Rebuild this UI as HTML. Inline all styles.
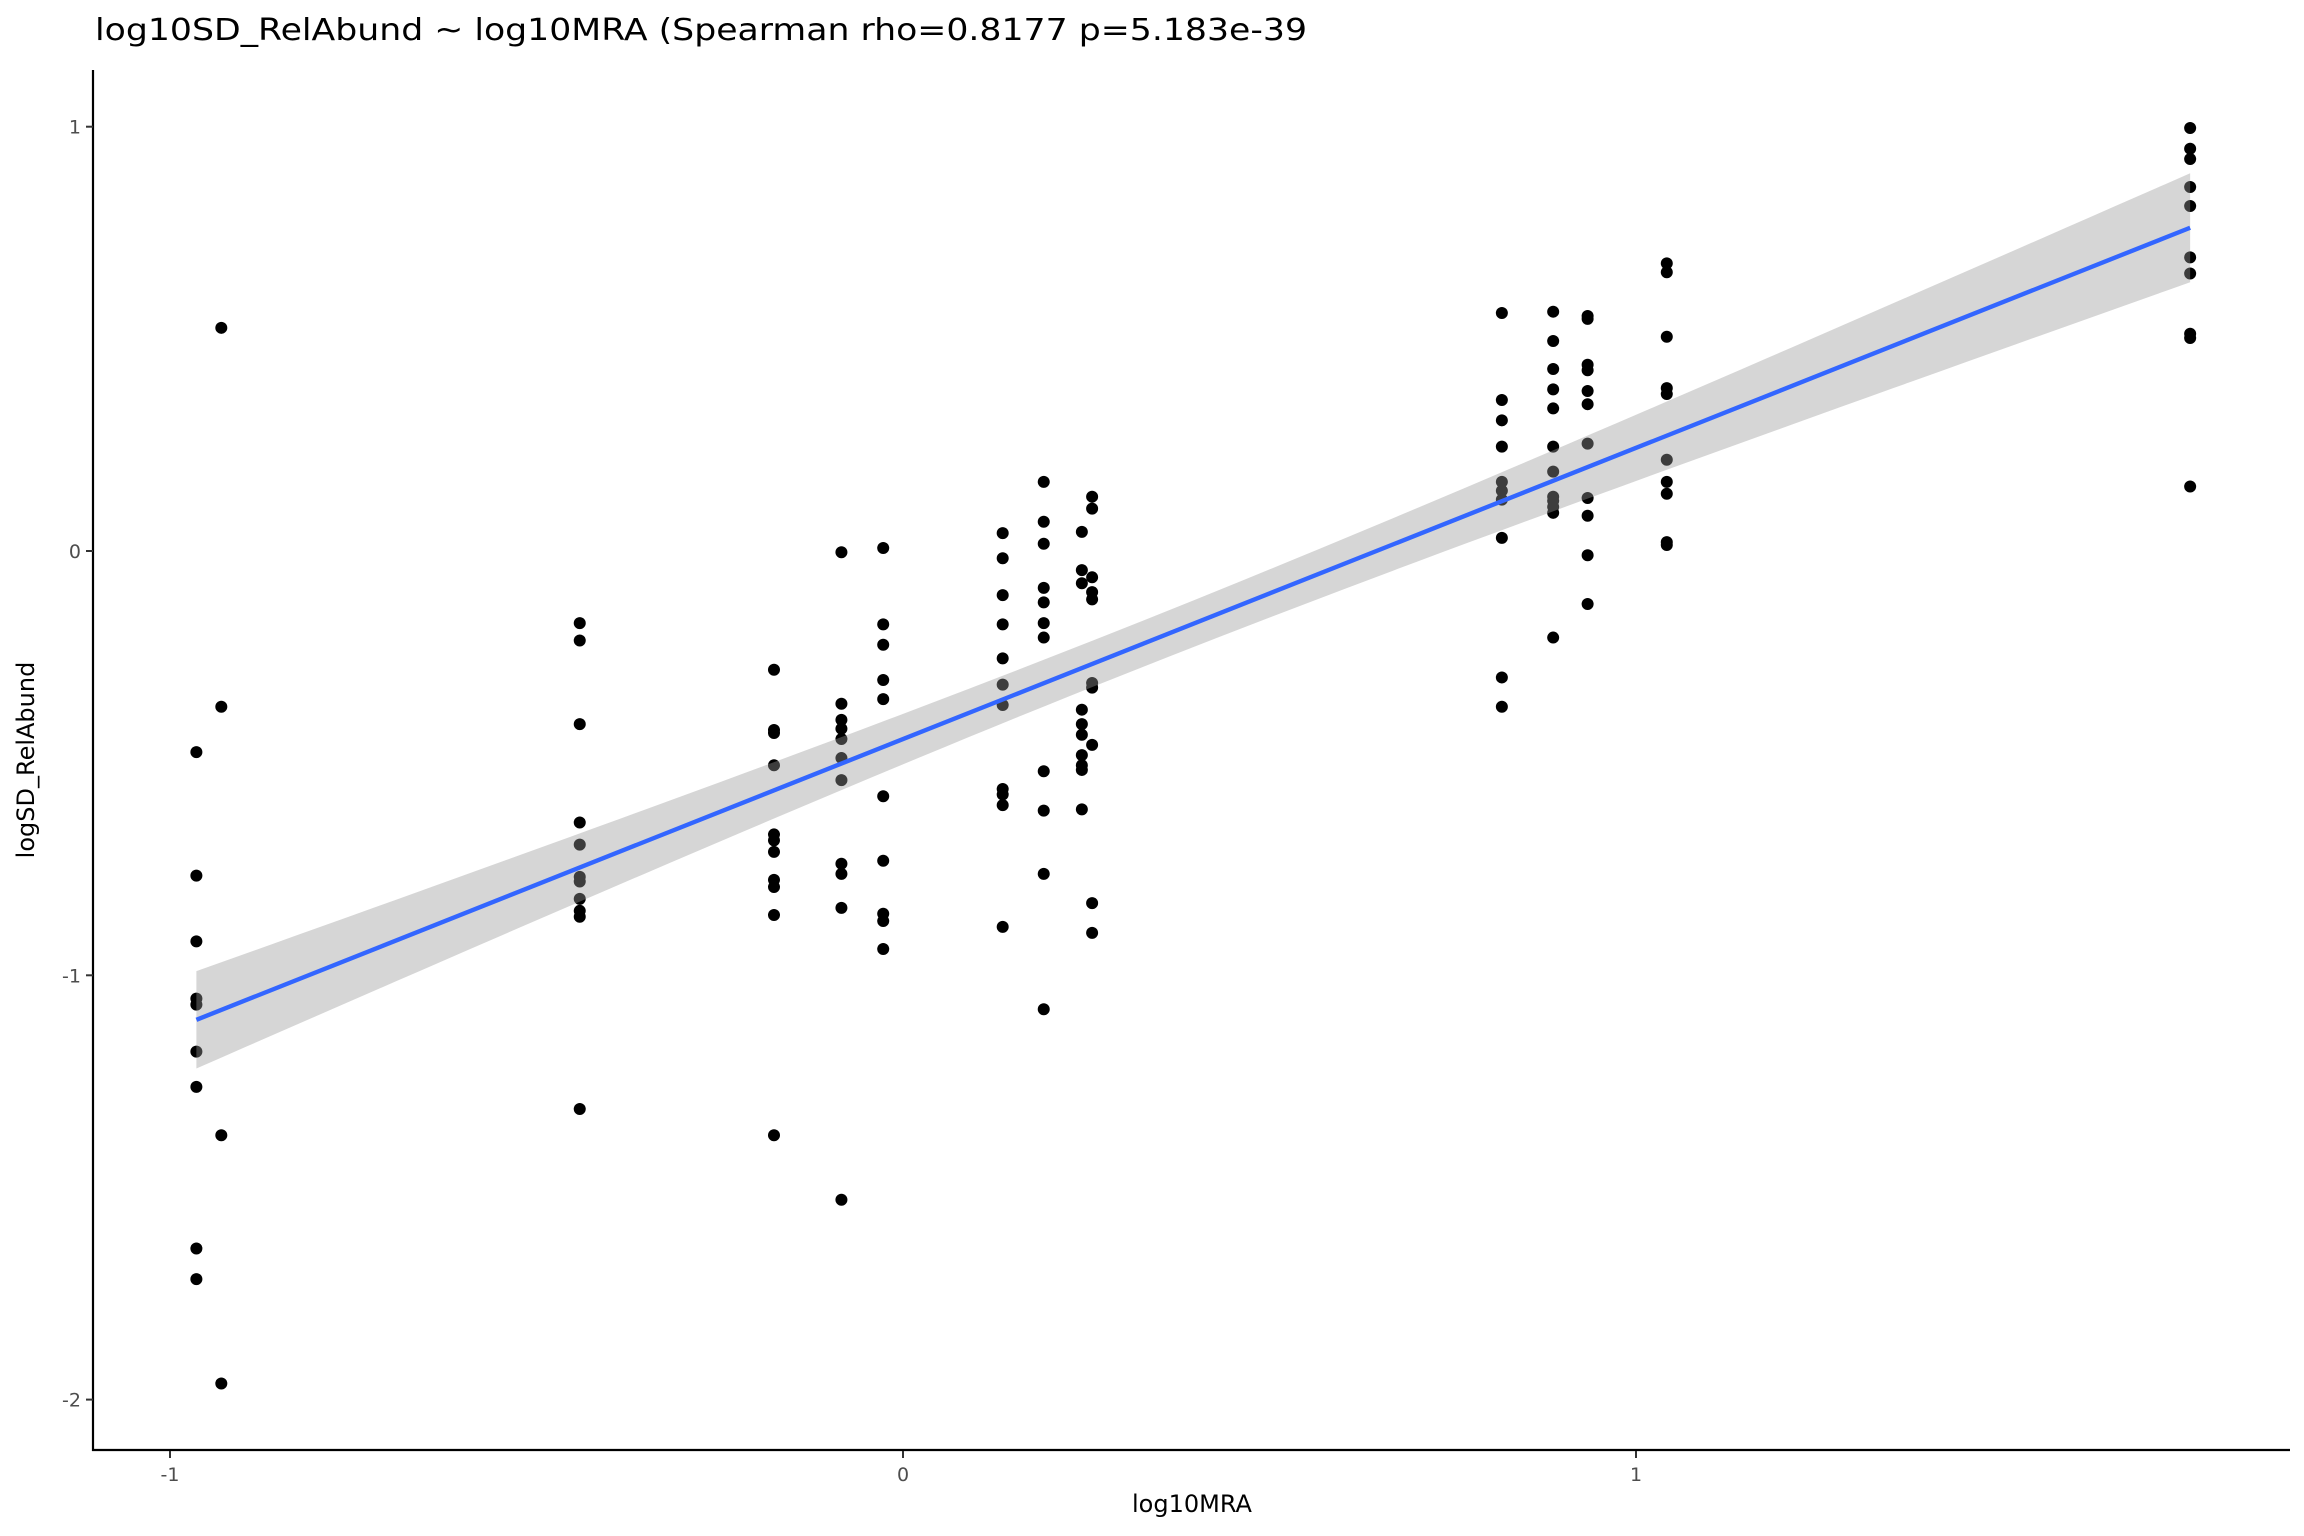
<!DOCTYPE html>
<html><head><meta charset="utf-8"><style>
html,body{margin:0;padding:0;background:#fff;}
svg{display:block;font-family:"DejaVu Sans","Liberation Sans",sans-serif;}
</style></head><body>
<svg id="chart" width="2304" height="1536" viewBox="0 0 2304 1536">
<rect x="0" y="0" width="2304" height="1536" fill="#fff"/>
<text x="95" y="40" font-size="30" fill="#000" textLength="1212" lengthAdjust="spacingAndGlyphs">log10SD_RelAbund ~ log10MRA (Spearman rho=0.8177 p=5.183e-39</text>
<g id="points"></g>
<g id="band"></g>
<g id="fit"></g>
<g id="axes"></g>
<text x="1192" y="1512" font-size="24" text-anchor="middle" fill="#000">log10MRA</text>
<text transform="translate(34,760) rotate(-90)" font-size="24" text-anchor="middle" fill="#000">logSD_RelAbund</text>
</svg>
<script>
const xGroups = [-0.964,-0.930,-0.441,-0.176,-0.084,-0.027,0.136,0.192,0.244,0.258,0.817,0.887,0.934,1.042,1.756];
const yGroups = [
 [-0.474,-0.765,-0.920,-1.055,-1.069,-1.180,-1.263,-1.644,-1.716],
 [0.526,-0.367,-1.377,-1.962],
 [-0.170,-0.211,-0.408,-0.640,-0.692,-0.768,-0.779,-0.820,-0.848,-0.862,-1.315],
 [-0.280,-0.422,-0.429,-0.505,-0.668,-0.682,-0.709,-0.775,-0.792,-0.858,-1.377],
 [-0.003,-0.360,-0.398,-0.419,-0.443,-0.488,-0.540,-0.737,-0.761,-0.841,-1.529],
 [0.007,-0.173,-0.221,-0.304,-0.349,-0.578,-0.730,-0.855,-0.872,-0.938],
 [0.042,-0.017,-0.104,-0.173,-0.253,-0.315,-0.363,-0.561,-0.574,-0.599,-0.886],
 [0.163,0.069,0.017,-0.087,-0.121,-0.170,-0.204,-0.519,-0.612,-0.761,-1.080],
 [0.045,-0.045,-0.076,-0.374,-0.408,-0.433,-0.481,-0.505,-0.516,-0.609],
 [0.128,0.100,-0.062,-0.097,-0.114,-0.311,-0.322,-0.457,-0.830,-0.900],
 [0.561,0.356,0.308,0.246,0.163,0.142,0.121,0.031,-0.298,-0.367],
 [0.564,0.495,0.429,0.381,0.336,0.246,0.187,0.128,0.118,0.104,0.090,-0.204],
 [0.554,0.547,0.439,0.426,0.377,0.346,0.253,0.125,0.083,-0.010,-0.125],
 [0.678,0.657,0.505,0.384,0.370,0.215,0.163,0.135,0.021,0.014],
 [0.997,0.948,0.924,0.858,0.813,0.692,0.654,0.512,0.502,0.152]
];
const xTicks = [-1,0,1];
const xTickLabels = ["-1","0","1"];
const yTicks = [1,0,-1,-2];
const yTickLabels = ["1","0","-1","-2"];

const NS="http://www.w3.org/2000/svg";
function X(v){return 903+733*v;}
function Y(v){return 551-424.3*v;}
function mk(tag,attrs,parent){const e=document.createElementNS(NS,tag);for(const k in attrs)e.setAttribute(k,attrs[k]);parent.appendChild(e);return e;}

const xs=[],ys=[];
xGroups.forEach((x,i)=>yGroups[i].forEach(y=>{xs.push(x);ys.push(y);}));
const n=xs.length;
const mx=xs.reduce((a,b)=>a+b,0)/n, my=ys.reduce((a,b)=>a+b,0)/n;
let sxx=0,sxy=0;for(let i=0;i<n;i++){sxx+=(xs[i]-mx)**2;sxy+=(xs[i]-mx)*(ys[i]-my);}
const b=sxy/sxx,a=my-b*mx;
let sse=0;for(let i=0;i<n;i++)sse+=(ys[i]-a-b*xs[i])**2;
const s=Math.sqrt(sse/(n-2)),t=1.98;

const pg=document.getElementById('points');
for(let i=0;i<n;i++){
 const c=mk('ellipse',{cx:X(xs[i]),cy:Y(ys[i]),rx:6,ry:6,fill:'#000'},pg);
 
 
}
const xmin=Math.min(...xs),xmax=Math.max(...xs);
let up=[],lo=[];
for(let k=0;k<=80;k++){
 const x=xmin+(xmax-xmin)*k/80;
 const f=a+b*x, se=s*Math.sqrt(1/n+(x-mx)**2/sxx);
 up.push(X(x)+','+Y(f+t*se)); lo.unshift(X(x)+','+Y(f-t*se));
}
const band=mk('polygon',{points:up.concat(lo).join(' '),fill:'#999999','fill-opacity':0.4},document.getElementById('band'));


const ln=mk('line',{x1:X(xmin),y1:Y(a+b*xmin),x2:X(xmax),y2:Y(a+b*xmax),stroke:'#3366FF','stroke-width':4.4},document.getElementById('fit'));



const ax=document.getElementById('axes');
const yl=mk('line',{x1:93,y1:70,x2:93,y2:1451,stroke:'#000','stroke-width':2.2},ax);


const xl=mk('line',{x1:92,y1:1450,x2:2290,y2:1450,stroke:'#000','stroke-width':2.2},ax);


xTicks.forEach((v,i)=>{
 const tk=mk('line',{x1:X(v),y1:1451,x2:X(v),y2:1458,stroke:'#333','stroke-width':2},ax);
 
 
 const tx=mk('text',{x:X(v),y:1481,'font-size':19,'text-anchor':'middle',fill:'#4d4d4d'},ax);
 tx.textContent=xTickLabels[i];
 
 
});
yTicks.forEach((v,i)=>{
 const tk=mk('line',{x1:86,y1:Y(v),x2:93,y2:Y(v),stroke:'#333','stroke-width':2},ax);
 
 
 const tx=mk('text',{x:81,y:Y(v)+7,'font-size':19,'text-anchor':'end',fill:'#4d4d4d'},ax);
 tx.textContent=yTickLabels[i];
 
 
});
</script>
</body></html>
